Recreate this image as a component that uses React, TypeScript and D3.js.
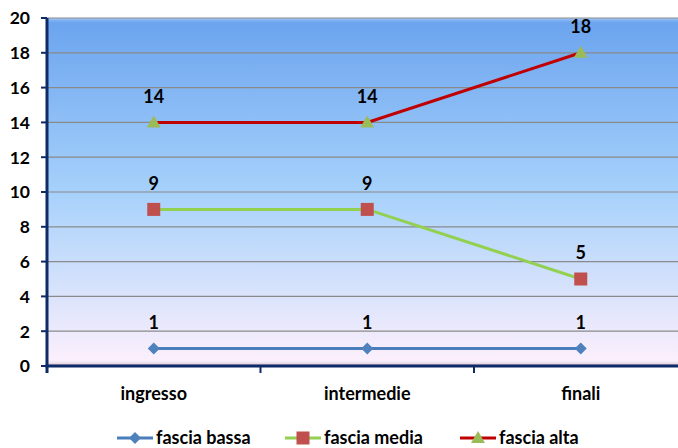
import React from "react";
import * as d3 from "d3";

const categories = ["ingresso", "intermedie", "finali"];
const bassa = [1, 1, 1];
const media = [9, 9, 5];
const alta = [14, 14, 18];
const seriesNames = ["fascia bassa", "fascia media", "fascia alta"];
const yTicks = [0, 2, 4, 6, 8, 10, 12, 14, 16, 18, 20];

const W = 678, H = 448;
const left = 47, top = 18, bottom = 366;
const bandW = 213.5;
const right = left + bandW * 3;
const font = "Lato, 'Open Sans', sans-serif";

export default function App() {
  const x = d3.scaleBand().domain(categories).range([left, right]).padding(0);
  const y = d3.scaleLinear().domain([0, 20]).range([bottom, top]);
  const cx = (c: string) => (x(c) as number) + x.bandwidth() / 2;
  const line = d3.line<[string, number]>().x(d => cx(d[0])).y(d => y(d[1]));

  const series = [
    { name: seriesNames[0], values: bassa, color: "#4a7ebb", marker: "diamond", mcolor: "#4f81bd" },
    { name: seriesNames[1], values: media, color: "#92d050", marker: "square", mcolor: "#c0504d" },
    { name: seriesNames[2], values: alta, color: "#c00000", marker: "triangle", mcolor: "#9bbb59" },
  ];

  const marker = (type: string, px: number, py: number, color: string, key: string) => {
    if (type === "diamond")
      return <path key={key} d={`M${px},${py - 6}L${px + 6},${py}L${px},${py + 6}L${px - 6},${py}Z`} fill={color} />;
    if (type === "square")
      return <rect key={key} x={px - 6.5} y={py - 6.5} width={13} height={13} fill={color} />;
    return <path key={key} d={`M${px},${py - 7}L${px + 7},${py + 5}L${px - 7},${py + 5}Z`} fill={color} />;
  };

  const legendX = [117, 285, 460];

  return (
    <svg width={W} height={H} style={{ position: "absolute", left: 0, top: 0 }} fontFamily={font}>
      <defs>
        <linearGradient id="bg" x1="0" y1="0" x2="0" y2="1">
          <stop offset="0" stopColor="#6aa3ee" />
          <stop offset="0.5" stopColor="#a6d1fb" />
          <stop offset="1" stopColor="#fef0fc" />
        </linearGradient>
        <linearGradient id="bevT" x1="0" y1="0" x2="0" y2="1">
          <stop offset="0" stopColor="#a9cdf8" />
          <stop offset="1" stopColor="#6aa3ee" stopOpacity="0" />
        </linearGradient>
        <linearGradient id="bevB" x1="0" y1="0" x2="0" y2="1">
          <stop offset="0" stopColor="#fef0fc" stopOpacity="0" />
          <stop offset="1" stopColor="#b8a8b8" />
        </linearGradient>
      </defs>
      <rect x={0} y={0} width={W} height={H} fill="#fff" />
      <rect x={left} y={top} width={right - left} height={bottom - top} fill="url(#bg)" />
      <rect x={left} y={top} width={right - left} height={6} fill="url(#bevT)" />
      <rect x={left} y={bottom - 6} width={right - left} height={6} fill="url(#bevB)" />
      {yTicks.map(t => (
        <line key={t} x1={left} x2={right} y1={y(t)} y2={y(t)} stroke="#8a8a8a" strokeWidth={1.2} />
      ))}
      <line x1={left} x2={left} y1={top} y2={bottom + 7} stroke="#0f2a66" strokeWidth={3} />
      <line x1={left - 1.5} x2={W} y1={bottom} y2={bottom} stroke="#0f2a66" strokeWidth={3} />
      {yTicks.map(t => (
        <g key={"yt" + t}>
          <line x1={left - 6} x2={left} y1={y(t)} y2={y(t)} stroke="#0f2a66" strokeWidth={2} />
          <text x={30} y={y(t)} dy="0.36em" textAnchor="end" fontSize={17.5} fontWeight="bold" fill="#000">{t}</text>
        </g>
      ))}
      {[1, 2].map(i => (
        <line key={"xt" + i} x1={left + bandW * i} x2={left + bandW * i} y1={bottom} y2={bottom + 7} stroke="#0f2a66" strokeWidth={2} />
      ))}
      {categories.map(c => (
        <text key={c} x={cx(c)} y={394} dy="0.35em" textAnchor="middle" fontSize={18} fontWeight="bold" fill="#000">{c}</text>
      ))}
      {series.map(s => {
        const pts = categories.map((c, i) => [c, s.values[i]] as [string, number]);
        return (
          <g key={s.name}>
            <path d={line(pts) as string} fill="none" stroke={s.color} strokeWidth={3} />
            {pts.map((p, i) => marker(s.marker, cx(p[0]), y(p[1]), s.mcolor, s.name + i))}
            {pts.map((p, i) => (
              <text key={"l" + i} x={cx(p[0])} y={y(p[1]) - 26} dy="0.36em" textAnchor="middle" fontSize={18} fontWeight="bold" fill="#000">{p[1]}</text>
            ))}
          </g>
        );
      })}
      {series.map((s, i) => (
        <g key={"lg" + i}>
          <line x1={legendX[i]} x2={legendX[i] + 36} y1={438} y2={438} stroke={s.color} strokeWidth={3} />
          {marker(s.marker, legendX[i] + 18, 438, s.mcolor, "lm" + i)}
          <text x={legendX[i] + 39} y={438} dy="0.35em" fontSize={18} fontWeight="bold" fill="#000">{s.name}</text>
        </g>
      ))}
    </svg>
  );
}
